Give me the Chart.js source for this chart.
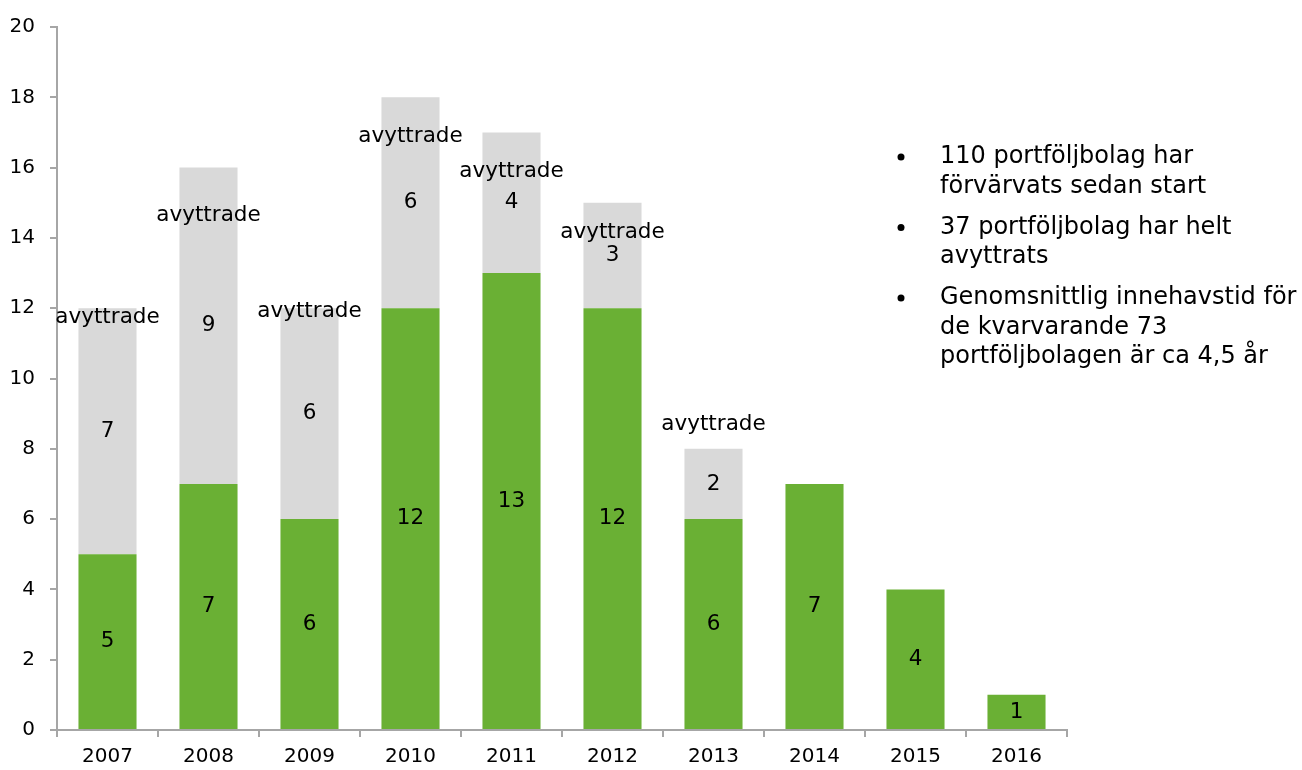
<!DOCTYPE html>
<html>
<head>
<meta charset="utf-8">
<script src="https://cdn.jsdelivr.net/npm/chart.js@4/dist/chart.umd.min.js"></script>
<style>
  html, body { margin: 0; padding: 0; background: #fff; }
  #wrap { width: 1302px; height: 770px; position: relative; }
</style>
</head>
<body>
<div id="wrap"><canvas id="chart"></canvas></div>
<script>
// data
const years = ['2007', '2008', '2009', '2010', '2011', '2012', '2013', '2014', '2015', '2016'];
const kvar = [5, 7, 6, 12, 13, 12, 6, 7, 4, 1];          // green: still held
const avyttrade = [7, 9, 6, 6, 4, 3, 2, 0, 0, 0];       // grey: divested
// where the "avyttrade" caption sits, in axis units
const captionAt = [11.75, 14.65, 11.9, 16.9, 15.9, 14.15, 8.7, null, null, null];
const yTicks = [0, 2, 4, 6, 8, 10, 12, 14, 16, 18, 20];
const bullets = [
  ['110 portföljbolag har', 'förvärvats sedan start'],
  ['37 portföljbolag har helt', 'avyttrats'],
  ['Genomsnittlig innehavstid för', 'de kvarvarande 73', 'portföljbolagen är ca 4,5 år']
];

const FONT = 'DejaVu Sans, Verdana, sans-serif';
const AXIS = '#a6a6a6';

const labelPlugin = {
  id: 'labels',
  afterDatasetsDraw(chart) {
    const ctx = chart.ctx;
    const y = chart.scales.y;
    ctx.save();
    ctx.fillStyle = '#000';
    ctx.font = '21.5px ' + FONT;
    ctx.textAlign = 'center';
    ctx.textBaseline = 'middle';
    chart.data.datasets.forEach((ds, di) => {
      const meta = chart.getDatasetMeta(di);
      meta.data.forEach((bar, i) => {
        const v = ds.data[i];
        if (!v) return;
        ctx.fillText(String(v), bar.x, (bar.y + bar.base) / 2);
      });
    });
    const meta0 = chart.getDatasetMeta(0);
    captionAt.forEach((c, i) => {
      if (c == null) return;
      ctx.fillText('avyttrade', meta0.data[i].x, y.getPixelForValue(c));
    });
    ctx.restore();
  },
  afterDraw(chart) {
    const ctx = chart.ctx;
    ctx.save();
    ctx.fillStyle = '#000';
    ctx.font = '24px ' + FONT;
    ctx.textBaseline = 'middle';
    let ty = 157;
    bullets.forEach(lines => {
      ctx.beginPath();
      ctx.arc(901, ty, 3.5, 0, Math.PI * 2);
      ctx.fill();
      lines.forEach(l => {
        ctx.fillText(l, 940, ty);
        ty += 29.5;
      });
      ty += 11.5;
    });
    ctx.restore();
  }
};

new Chart(document.getElementById('chart'), {
  type: 'bar',
  data: {
    labels: years,
    datasets: [
      { label: 'kvar', data: kvar, backgroundColor: '#6ab034', borderWidth: 0 },
      { label: 'avyttrade', data: avyttrade, backgroundColor: '#d9d9d9', borderWidth: 0 }
    ]
  },
  options: {
    responsive: true,
    maintainAspectRatio: false,
    animation: false,
    layout: { padding: { top: 24, right: 235, bottom: 0, left: 0 } },
    plugins: { legend: { display: false }, tooltip: { enabled: false } },
    datasets: { bar: { categoryPercentage: 1, barPercentage: 0.575 } },
    scales: {
      x: {
        stacked: true,
        border: { color: AXIS, width: 2 },
        grid: { drawOnChartArea: false, color: AXIS, lineWidth: 2, tickLength: 7, offset: true },
        ticks: { color: '#000', font: { family: FONT, size: 20 }, padding: 8 },
        afterFit: s => { s.height = 40; }
      },
      y: {
        stacked: true,
        min: 0, max: 20,
        afterBuildTicks: s => { s.ticks = yTicks.map(v => ({ value: v })); },
        border: { color: AXIS, width: 2 },
        grid: { drawOnChartArea: false, color: AXIS, lineWidth: 2, tickLength: 7 },
        ticks: { color: '#000', font: { family: FONT, size: 20 }, padding: 15 },
        afterFit: s => { s.width = 57; }
      }
    }
  },
  plugins: [labelPlugin]
});
</script>
</body>
</html>
